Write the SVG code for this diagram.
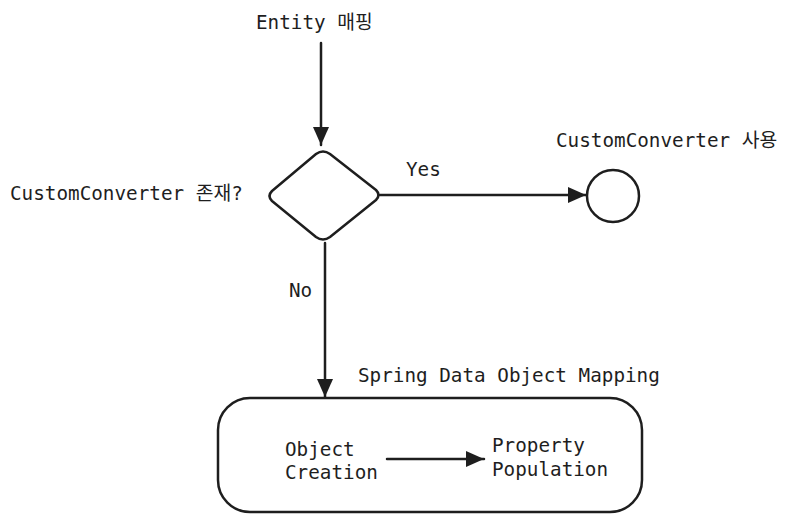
<svg xmlns="http://www.w3.org/2000/svg" width="792" height="522" viewBox="0 0 792 522">
<style>
text{font-family:"DejaVu Sans Mono","Liberation Mono","Noto Sans CJK KR",monospace;font-size:19.3px;fill:#1e1e1e}
.s{fill:none;stroke:#1e1e1e;stroke-width:2.5;stroke-linejoin:round;stroke-linecap:round}
</style>
<defs>
<marker id="a" markerUnits="userSpaceOnUse" markerWidth="20" markerHeight="20" refX="18" refY="8" orient="auto" overflow="visible">
<path d="M0,0 L18,8 L0,16 Z" fill="#1e1e1e"/>
</marker>
</defs>
<rect width="792" height="522" fill="#ffffff"/>
<g id="connectors">
<path class="s" d="M321,43 L321,145" marker-end="url(#a)"/>
<path class="s" d="M380,195 L586,195" marker-end="url(#a)"/>
<path class="s" d="M325,243 L325,397" marker-end="url(#a)"/>
<path class="s" d="M387,459 L484,459" marker-end="url(#a)"/>
</g>
<g id="start"><text x="256" y="29">Entity 매핑</text></g>
<g id="decision">
<path class="s" d="M316,154 Q323,149 330,154 L376,190 Q381,195 376,200 L330,237 Q323,242 316,237 L272,201 Q267,196 272,191 Z"/>
<text x="10" y="200">CustomConverter 존재?</text>
</g>
<g id="yes-label"><text x="406" y="176">Yes</text></g>
<g id="no-label"><text x="289" y="297">No</text></g>
<g id="end"><circle class="s" cx="613" cy="196" r="26"/><text x="556" y="147">CustomConverter 사용</text></g>
<g id="mapping">
<rect class="s" x="218" y="398" width="424" height="114" rx="32"/>
<text x="358" y="382">Spring Data Object Mapping</text>
</g>
<g id="object-creation"><text x="285" y="456">Object</text><text x="285" y="479">Creation</text></g>
<g id="property-population"><text x="492" y="452">Property</text><text x="492" y="476">Population</text></g>
</svg>
